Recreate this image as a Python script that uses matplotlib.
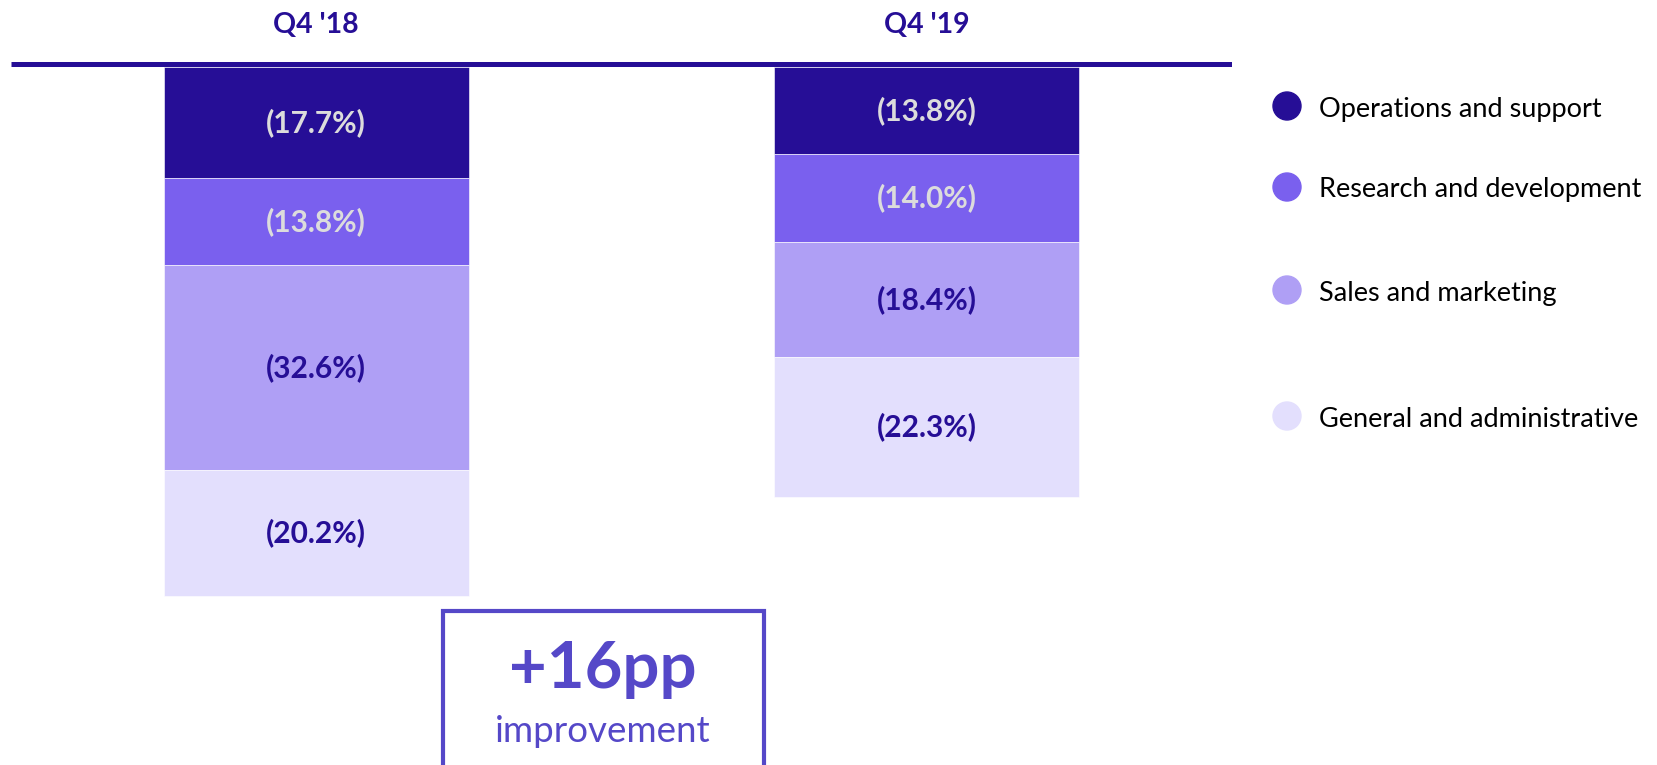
import matplotlib.pyplot as plt
from matplotlib.patches import Rectangle

plt.rcParams['font.family'] = ['Lato', 'DejaVu Sans']

# data
periods = ["Q4 '18", "Q4 '19"]
categories = ['Operations and support', 'Research and development',
              'Sales and marketing', 'General and administrative']
q4_18 = [17.7, 13.8, 32.6, 20.2]
q4_19 = [13.8, 14.0, 18.4, 22.3]
improvement = '+16pp'

colors = ['#260E96', '#7A60EE', '#AF9FF5', '#E3DFFD']
label_colors = ['#DCDCDC', '#DCDCDC', '#260E96', '#260E96']
dark = '#260E96'
accent = '#5548C8'

W, H = 1657, 765
fig = plt.figure(figsize=(W / 100, H / 100), dpi=100)
# axes spans the full height, x from the baseline start to its end
ax = fig.add_axes([11 / W, 0, (1232 - 11) / W, 1])
ax.set_xlim(-0.5, 1.5)
ax.set_ylim(111.15, -10.67)   # 0 sits at the baseline, values go down
ax.axis('off')

series = [q4_18, q4_19]
for i, vals in enumerate(series):
    bottom = 0
    for j, v in enumerate(vals):
        ax.bar(i, v, bottom=bottom, width=0.5, color=colors[j],
               edgecolor='white', linewidth=0.4)
        ax.text(i, bottom + v / 2, '(%.1f%%)' % v, ha='center', va='center',
                fontsize=21.5, fontweight='bold', color=label_colors[j])
        bottom += v
    ax.text(i, -6.7, periods[i], ha='center', va='center', fontsize=20.5,
            fontweight='bold', color=dark)

# baseline across the top
ax.plot([-0.5, 1.5], [-0.4, -0.4], color=dark, lw=3.6, solid_capstyle='butt')

# improvement box at the bottom
box = Rectangle((443 / W, -0.05), (764 - 443) / W, (H - 611) / H + 0.05,
                transform=fig.transFigure, fill=False, edgecolor=accent,
                lw=3, clip_on=False)
fig.patches.append(box)
fig.text(603 / W, 1 - 688 / H, improvement, ha='center', va='baseline',
         fontsize=47, fontweight='bold', color=accent)
fig.text(603 / W, 1 - 742 / H, 'improvement', ha='center', va='baseline',
         fontsize=26.5, color=accent)

# legend
leg_y = [106, 187, 290, 416]
for c, name, y in zip(colors, categories, leg_y):
    fig.patches.append(plt.Circle((1287, H - y), 14, transform=None,
                                  color=c, clip_on=False))
    # text sits ~3px lower than the dot centre, as in the reference
    fig.text(1319 / W, 1 - (y + 3) / H, name, ha='left', va='center',
             fontsize=19.5, color='black')

fig.savefig('out.png', dpi=100)
